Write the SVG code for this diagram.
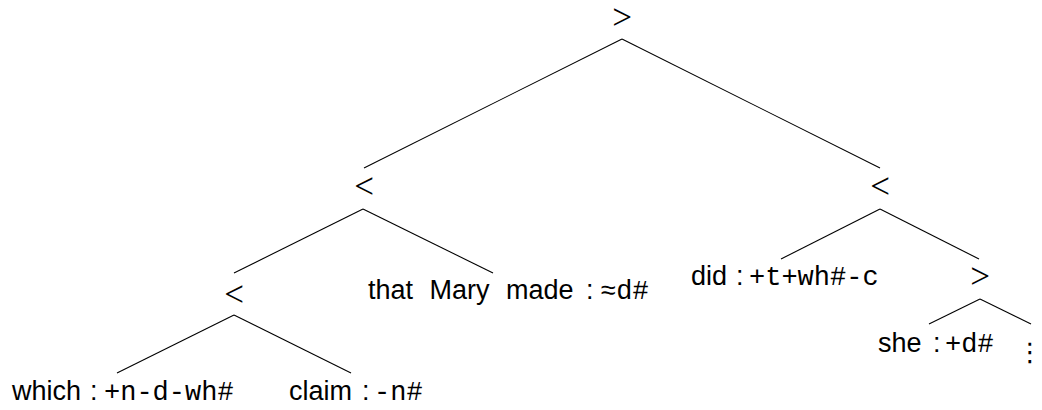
<svg xmlns="http://www.w3.org/2000/svg" width="1042" height="410" viewBox="0 0 1042 410">
<style>
  .sf { font-family: "Liberation Sans", Arial, sans-serif; font-size: 27px; fill: #000; }
  .tt { font-family: "Liberation Mono", "DejaVu Sans Mono", monospace; font-size: 27px; fill: #000; }
  .op { font-family: "Liberation Serif", "Times New Roman", serif; font-size: 35px; fill: #000; text-anchor: middle; }
  .dots { font-family: "DejaVu Sans", sans-serif; font-size: 26px; fill: #000; text-anchor: middle; }
  .edge { stroke: #000; stroke-width: 1.1; fill: none; }
</style>
<rect width="1042" height="410" fill="#fff"/>
<g id="connectors">
  <line class="edge" x1="622" y1="39" x2="364" y2="168"/>
  <line class="edge" x1="622" y1="39" x2="880" y2="168"/>
  <line class="edge" x1="363" y1="209" x2="234" y2="273"/>
  <line class="edge" x1="363" y1="209" x2="493" y2="273"/>
  <line class="edge" x1="234" y1="315" x2="117" y2="373"/>
  <line class="edge" x1="234" y1="315" x2="351" y2="373"/>
  <line class="edge" x1="880" y1="209" x2="781" y2="259"/>
  <line class="edge" x1="880" y1="209" x2="979" y2="259"/>
  <line class="edge" x1="980" y1="299" x2="929" y2="324"/>
  <line class="edge" x1="980" y1="299" x2="1031" y2="324"/>
</g>
<g id="root"><text class="op" x="622" y="29">&gt;</text></g>
<g id="left-lt"><text class="op" x="364" y="198">&lt;</text></g>
<g id="right-lt"><text class="op" x="880" y="198">&lt;</text></g>
<g id="lower-lt"><text class="op" x="234" y="306">&lt;</text></g>
<g id="right-gt"><text class="op" x="980" y="288">&gt;</text></g>
<g id="which">
  <text y="400"><tspan class="sf" x="12">which</tspan><tspan class="sf" x="90">:</tspan><tspan class="tt" x="104">+n-d-wh#</tspan></text>
</g>
<g id="claim">
  <text y="400"><tspan class="sf" x="289">claim</tspan><tspan class="sf" x="362">:</tspan><tspan class="tt" x="374">-n#</tspan></text>
</g>
<g id="that-mary-made">
  <text y="299"><tspan class="sf" x="368" word-spacing="9">that Mary made</tspan><tspan class="sf" x="586">:</tspan><tspan class="tt" x="600">≈d#</tspan></text>
</g>
<g id="did">
  <text y="285"><tspan class="sf" x="691">did</tspan><tspan class="sf" x="736">:</tspan><tspan class="tt" x="749">+t+wh#-c</tspan></text>
</g>
<g id="she">
  <text y="352"><tspan class="sf" x="878">she</tspan><tspan class="sf" x="933">:</tspan><tspan class="tt" x="945">+d#</tspan></text>
</g>
<g id="vdots"><text class="dots" x="1030" y="361">⋮</text></g>
</svg>
